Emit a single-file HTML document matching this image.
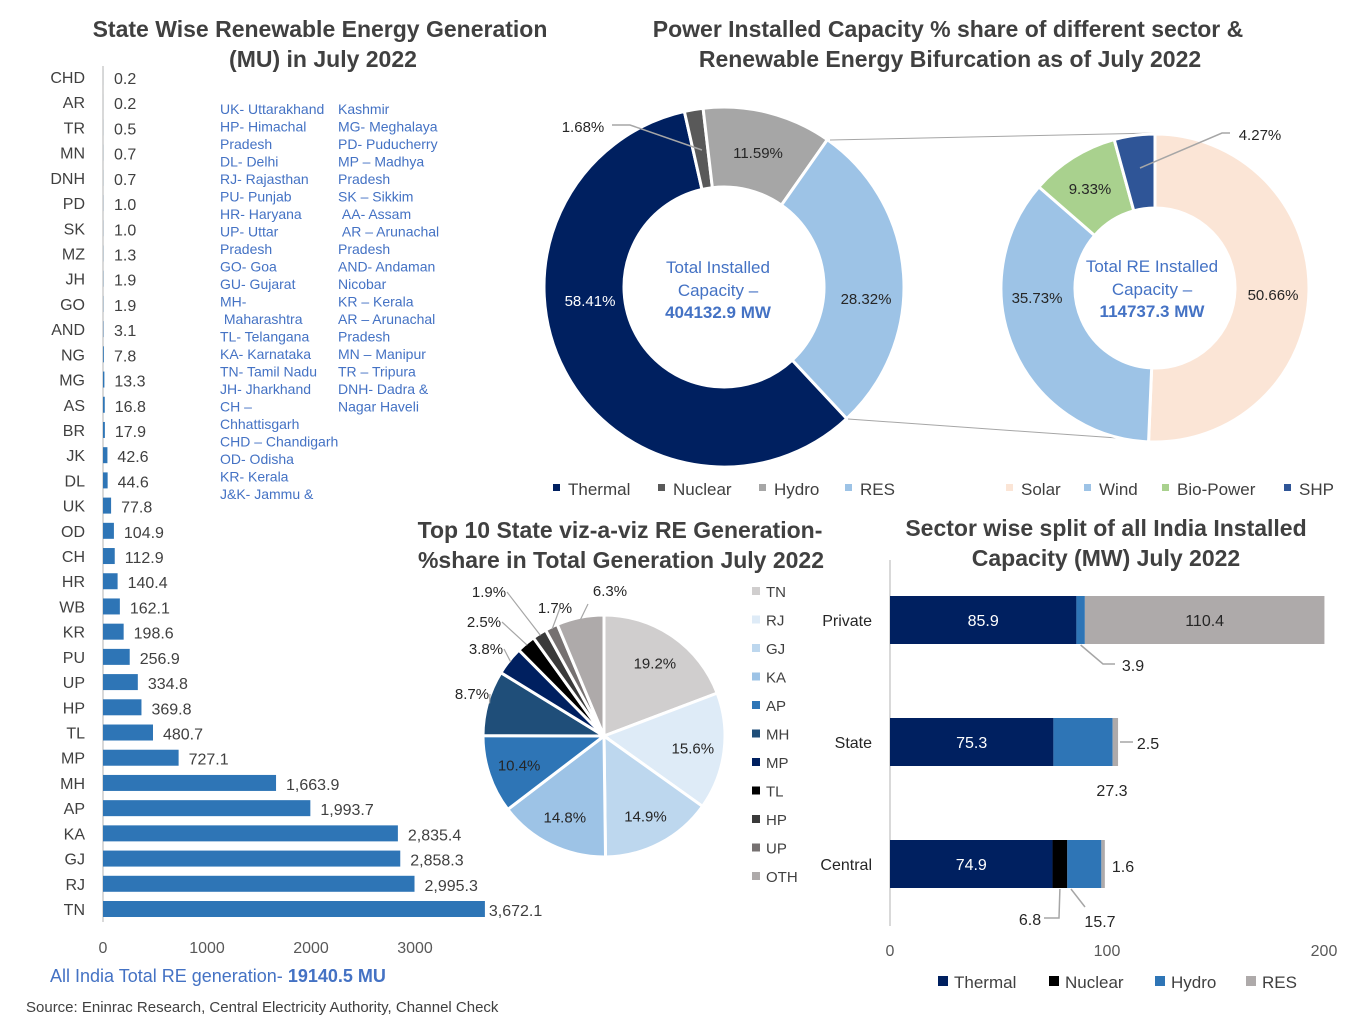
<!DOCTYPE html>
<html><head><meta charset="utf-8">
<style>
body{margin:0;background:#fff;}
svg{display:block;font-family:"Liberation Sans",sans-serif;}
</style></head>
<body>
<svg id="s" width="1352" height="1027" viewBox="0 0 1352 1027" xmlns="http://www.w3.org/2000/svg">
<g font-weight="bold" font-size="23" fill="#404040" text-anchor="middle">
<text x="320" y="37">State Wise Renewable Energy Generation</text>
<text x="323" y="67">(MU) in July 2022</text>
<text x="948" y="37">Power Installed Capacity % share of different sector &amp;</text>
<text x="950" y="67">Renewable Energy Bifurcation as of July 2022</text>
<text x="620" y="538">Top 10 State viz-a-viz RE Generation-</text>
<text x="621" y="568">%share in Total Generation July 2022</text>
<text x="1106" y="536">Sector wise split of all India Installed</text>
<text x="1106" y="566">Capacity (MW) July 2022</text>
</g>
<g id="abbr" font-size="14" fill="#4472c4"></g>
<g id="bars"></g>
<g id="donut1"></g>
<g id="donut2"></g>
<g id="pie"></g>
<g id="stack"></g>
<text x="50" y="982" font-size="18" fill="#4472c4">All India Total RE generation- <tspan font-weight="bold">19140.5 MU</tspan></text>
<text x="26" y="1012" font-size="15" fill="#404040">Source: Eninrac Research, Central Electricity Authority, Channel Check</text>
</svg>
<script>
// ---- Bar chart data ----
const barCats=["CHD","AR","TR","MN","DNH","PD","SK","MZ","JH","GO","AND","NG","MG","AS","BR","JK","DL","UK","OD","CH","HR","WB","KR","PU","UP","HP","TL","MP","MH","AP","KA","GJ","RJ","TN"];
const barVals=[0.2,0.2,0.5,0.7,0.7,1.0,1.0,1.3,1.9,1.9,3.1,7.8,13.3,16.8,17.9,42.6,44.6,77.8,104.9,112.9,140.4,162.1,198.6,256.9,334.8,369.8,480.7,727.1,1663.9,1993.7,2835.4,2858.3,2995.3,3672.1];
const barTicks=[0,1000,2000,3000];
// ---- Donut data ----
const d1Cats=["Thermal","Nuclear","Hydro","RES"];
const d1Vals=[58.41,1.68,11.59,28.32];
const d2Cats=["Solar","Wind","Bio-Power","SHP"];
const d2Vals=[50.66,35.73,9.33,4.27];
// ---- Pie data ----
const pieCats=["TN","RJ","GJ","KA","AP","MH","MP","TL","HP","UP","OTH"];
const pieVals=[19.2,15.6,14.9,14.8,10.4,8.7,3.8,2.5,1.9,1.7,6.3];
// ---- Stacked data ----
const stCats=["Private","State","Central"];
const stSeries=["Thermal","Nuclear","Hydro","RES"];
const stThermal=[85.9,75.3,74.9];
const stNuclear=[0,0,6.8];
const stHydro=[3.9,27.3,15.7];
const stRES=[110.4,2.5,1.6];
const stTicks=[0,100,200];

const NS="http://www.w3.org/2000/svg";
function mk(p,tag,attrs,txt){const e=document.createElementNS(NS,tag);for(const k in attrs)e.setAttribute(k,attrs[k]);if(txt!==undefined)e.textContent=txt;p.appendChild(e);return e;}

// Abbreviation legend
const ab=document.getElementById('abbr');
const col1=["UK- Uttarakhand","HP- Himachal","Pradesh","DL- Delhi","RJ- Rajasthan","PU- Punjab","HR- Haryana","UP- Uttar","Pradesh","GO- Goa","GU- Gujarat","MH-","\u00a0Maharashtra","TL- Telangana","KA- Karnataka","TN- Tamil Nadu","JH- Jharkhand","CH \u2013","Chhattisgarh","CHD \u2013 Chandigarh","OD- Odisha","KR- Kerala","J&K- Jammu &"];
const col2=["Kashmir","MG- Meghalaya","PD- Puducherry","MP \u2013 Madhya","Pradesh","SK \u2013 Sikkim","\u00a0AA- Assam","\u00a0AR \u2013 Arunachal","Pradesh","AND- Andaman","Nicobar","KR \u2013 Kerala","AR \u2013 Arunachal","Pradesh","MN \u2013 Manipur","TR \u2013 Tripura","DNH- Dadra &","Nagar Haveli"];
col1.forEach((t,i)=>{const e=mk(ab,'text',{x:220,y:114+i*17.5},t);});
col2.forEach((t,i)=>{const e=mk(ab,'text',{x:338,y:114+i*17.5},t);});

// Bar chart
const bg=document.getElementById('bars');
const bx=v=>103+v*0.104;
const by=i=>77+i*(909-77)/(barCats.length-1);
mk(bg,'line',{x1:103,y1:66,x2:103,y2:922,stroke:'#d9d9d9','stroke-width':2});
const fmt=v=>v>=1000?v.toLocaleString('en-US',{minimumFractionDigits:1,maximumFractionDigits:1}):v.toFixed(1);
barCats.forEach((c,i)=>{
  const y=by(i);
  const l=mk(bg,'text',{x:85,y:y+6,'text-anchor':'end','font-size':16,fill:'#404040'},c);
  
  const w=Math.max(bx(barVals[i])-103,0);
  const r=mk(bg,'rect',{x:103,y:y-8,width:w,height:16,fill:'#2e75b6'});
  
  const off=i===barCats.length-1?4:(w>1?10:10);
  const vl=mk(bg,'text',{x:103+Math.max(w,1)+off,y:y+7,'font-size':16,fill:'#404040'},fmt(barVals[i]));
  
});
barTicks.forEach(t=>{const e=mk(bg,'text',{x:bx(t),y:953,'text-anchor':'middle','font-size':16,fill:'#595959'},t);});

function pt(cx,cy,r,a){const t=(a-90)*Math.PI/180;return [cx+r*Math.cos(t),cy+r*Math.sin(t)];}
function arcPath(cx,cy,ro,ri,a0,a1){const lg=(a1-a0)>180?1:0;const p0=pt(cx,cy,ro,a0),p1=pt(cx,cy,ro,a1);
  if(ri<=0)return `M${cx},${cy}L${p0}A${ro},${ro} 0 ${lg} 1 ${p1}Z`;
  const q1=pt(cx,cy,ri,a1),q0=pt(cx,cy,ri,a0);
  return `M${p0}A${ro},${ro} 0 ${lg} 1 ${p1}L${q1}A${ri},${ri} 0 ${lg} 0 ${q0}Z`;}

// Donut 1
const g1=document.getElementById('donut1');
const d1Cols=['#002060','#595959','#a6a6a6','#9dc3e6'];
let a=137;const d1sum=d1Vals.reduce((s,v)=>s+v,0);
d1Vals.forEach((v,i)=>{const a1=a+v/d1sum*360;const p=mk(g1,'path',{d:arcPath(724,287,180,100,a,a1),fill:d1Cols[i],stroke:'#fff','stroke-width':3});
  a=a1;});
const d1lab=[[590,306,'#fff'],[583,132,'#262626'],[758,158,'#262626'],[866,304,'#262626']];
mk(g1,'polyline',{points:'612,125 630,125 702,150',fill:'none',stroke:'#a6a6a6','stroke-width':1.5});
d1Vals.forEach((v,i)=>{const e=mk(g1,'text',{x:d1lab[i][0],y:d1lab[i][1],'text-anchor':'middle','font-size':15,fill:d1lab[i][2]},v.toFixed(2)+'%');});
[['Total Installed',273,false],['Capacity \u2013',296,false],['404132.9 MW',318,true]].forEach(r=>{const e=mk(g1,'text',{x:718,y:r[1],'text-anchor':'middle','font-size':17,fill:'#4472c4','font-weight':r[2]?'bold':'normal'},r[0]);});
const l1x=[553,658,759,845];
d1Cats.forEach((c,i)=>{mk(g1,'rect',{x:l1x[i],y:484,width:7,height:7,fill:d1Cols[i]});const e=mk(g1,'text',{x:l1x[i]+15,y:495,'font-size':17,fill:'#404040'},c);});
mk(g1,'line',{x1:830,y1:140,x2:1154,y2:133,stroke:'#a6a6a6','stroke-width':1});
mk(g1,'line',{x1:848,y1:419,x2:1145,y2:440,stroke:'#a6a6a6','stroke-width':1});

// Donut 2
const g2=document.getElementById('donut2');
const d2Cols=['#fbe5d6','#9dc3e6','#a9d18e','#2f5597'];
a=0;const d2sum=d2Vals.reduce((s,v)=>s+v,0);
d2Vals.forEach((v,i)=>{const a1=a+v/d2sum*360;const p=mk(g2,'path',{d:arcPath(1155,288,154,80,a,a1),fill:d2Cols[i],stroke:'#fff','stroke-width':3});
  a=a1;});
const d2lab=[[1273,300],[1037,303],[1090,194],[1260,140]];
mk(g2,'polyline',{points:'1230,133 1222,133 1140,168',fill:'none',stroke:'#a6a6a6','stroke-width':1.5});
d2Vals.forEach((v,i)=>{const e=mk(g2,'text',{x:d2lab[i][0],y:d2lab[i][1],'text-anchor':'middle','font-size':15,fill:'#262626'},v.toFixed(2)+'%');});
[['Total RE Installed',272,false],['Capacity \u2013',295,false],['114737.3 MW',317,true]].forEach(r=>{const e=mk(g2,'text',{x:1152,y:r[1],'text-anchor':'middle','font-size':17,fill:'#4472c4','font-weight':r[2]?'bold':'normal'},r[0]);});
const l2x=[1006,1084,1162,1284];
d2Cats.forEach((c,i)=>{mk(g2,'rect',{x:l2x[i],y:484,width:7,height:7,fill:d2Cols[i]});const e=mk(g2,'text',{x:l2x[i]+15,y:495,'font-size':17,fill:'#404040'},c);});

// Pie
const pg=document.getElementById('pie');
const pCols=['#d0cece','#deebf7','#bdd7ee','#9dc3e6','#2e75b6','#1f4e79','#002060','#000000','#3a3a3a','#767171','#aeaaaa'];
const pcx=604,pcy=736,pr=121;
a=0;const psum=pieVals.reduce((s,v)=>s+v,0);
const extLab={5:[472,699],6:[486,654],7:[484,627],8:[489,597],9:[555,613],10:[610,596]};
pieVals.forEach((v,i)=>{const a1=a+v/psum*360;const m=(a+a1)/2;
  const p=mk(pg,'path',{d:arcPath(pcx,pcy,pr,0,a,a1),fill:pCols[i],stroke:'#fff','stroke-width':3});
  
  let lx,ly;
  if(extLab[i]){[lx,ly]=extLab[i];const e0=pt(pcx,pcy,pr-2,m);mk(pg,'line',{x1:e0[0],y1:e0[1],x2:lx+(i===9?5:(i===10?-22:18)),y2:ly-(i===10?-8:5),stroke:'#a6a6a6','stroke-width':1.2});}
  else{[lx,ly]=pt(pcx,pcy,pr*0.74,m);ly+=6;}
  const e=mk(pg,'text',{x:lx,y:ly,'text-anchor':'middle','font-size':15,fill:'#262626'},v.toFixed(1)+'%');
  
  a=a1;});
pieCats.forEach((c,i)=>{const y=591+i*28.5;mk(pg,'rect',{x:752,y:y-4,width:8,height:8,fill:pCols[i]});const e=mk(pg,'text',{x:766,y:y+6,'font-size':15,fill:'#404040'},c);});

// Stacked bars
const sg=document.getElementById('stack');
const sx=v=>890+v*2.17;
const sy=[620,742,864];
const sCols=['#002060','#000000','#2e75b6','#aeaaaa'];
const sData=[stThermal,stNuclear,stHydro,stRES];
mk(sg,'line',{x1:890,y1:560,x2:890,y2:926,stroke:'#d9d9d9','stroke-width':2});
stCats.forEach((c,j)=>{
  const e=mk(sg,'text',{x:872,y:sy[j]+6,'text-anchor':'end','font-size':16,fill:'#262626'},c);
  let acc=0;
  sData.forEach((arr,k)=>{const v=arr[j];if(v>0){const r=mk(sg,'rect',{x:sx(acc),y:sy[j]-24,width:v*2.17,height:48,fill:sCols[k]});
    }
    acc+=v;});
});
const inl=(x,y,t,f)=>{const e=mk(sg,'text',{x:x,y:y,'text-anchor':'middle','font-size':16,fill:f},t);};
stCats.forEach((c,j)=>inl(sx(stThermal[j]/2),sy[j]+6,stThermal[j].toFixed(1),'#fff'));
inl(sx(stThermal[0]+stHydro[0]+stRES[0]/2),sy[0]+6,stRES[0].toFixed(1),'#262626');
const gl='#a6a6a6';
mk(sg,'polyline',{points:`${sx(stThermal[0]+stHydro[0]/2)},645 1103,664 1115,664`,fill:'none',stroke:gl,'stroke-width':1.5});
inl(1133,671,stHydro[0].toFixed(1),'#262626');
mk(sg,'line',{x1:1120,y1:742,x2:1133,y2:742,stroke:gl,'stroke-width':1.5});
inl(1148,749,stRES[1].toFixed(1),'#262626');
inl(1112,796,stHydro[1].toFixed(1),'#262626');
mk(sg,'polyline',{points:`${sx(stThermal[2]+stNuclear[2]/2)},889 1059,918 1044,918`,fill:'none',stroke:gl,'stroke-width':1.5});
inl(1030,925,stNuclear[2].toFixed(1),'#262626');
mk(sg,'line',{x1:1071,y1:889,x2:1085,y2:907,stroke:gl,'stroke-width':1.5});
inl(1100,927,stHydro[2].toFixed(1),'#262626');
inl(1123,872,stRES[2].toFixed(1),'#262626');
stTicks.forEach(t=>{const e=mk(sg,'text',{x:sx(t),y:956,'text-anchor':'middle','font-size':16,fill:'#595959'},t);});
const l3x=[938,1049,1155,1246];
stSeries.forEach((c,i)=>{mk(sg,'rect',{x:l3x[i],y:976,width:10,height:10,fill:sCols[i]});const e=mk(sg,'text',{x:l3x[i]+16,y:988,'font-size':17,fill:'#404040'},c);});
</script>
</body></html>
